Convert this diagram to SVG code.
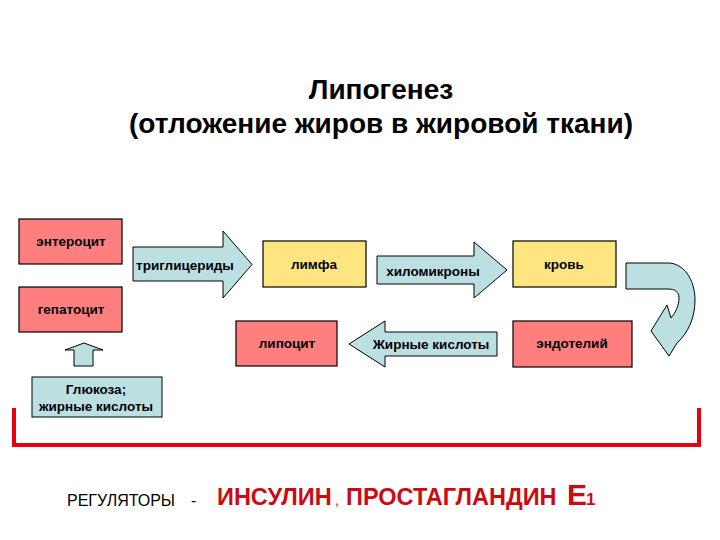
<svg xmlns="http://www.w3.org/2000/svg" width="720" height="540" viewBox="0 0 720 540">
<style>
text{font-family:"Liberation Sans",Arial,sans-serif;}
.t{font-weight:bold;font-size:13.5px;fill:#000;text-anchor:middle;}
.red{fill:#FF7F7F;stroke:#000;stroke-width:1.2;}
.yel{fill:#FFE57F;stroke:#000;stroke-width:1.2;}
.blue{fill:#BCDFE2;stroke:#000;stroke-width:1;}
.title{font-weight:bold;font-size:28px;fill:#000;text-anchor:middle;}
.reg{font-weight:bold;font-size:23.5px;fill:#CC0A14;}
</style>
<rect width="720" height="540" fill="#fff"/>
<g id="title">
<text class="title" x="381" y="99">Липогенез</text>
<text class="title" x="381" y="133">(отложение жиров в жировой ткани)</text>
</g>
<g id="enterocyte"><rect class="red" x="19" y="219" width="103" height="45"/><text class="t" x="71" y="246">энтероцит</text></g>
<g id="hepatocyte"><rect class="red" x="19" y="287" width="103" height="45"/><text class="t" x="71" y="314">гепатоцит</text></g>
<g id="lymph"><rect class="yel" x="263" y="241" width="103" height="46"/><text class="t" x="314" y="269">лимфа</text></g>
<g id="blood"><rect class="yel" x="513" y="241" width="103" height="46"/><text class="t" x="564" y="269">кровь</text></g>
<g id="lipocyte"><rect class="red" x="236" y="321" width="101" height="45"/><text class="t" x="287" y="348">липоцит</text></g>
<g id="endothelium"><rect class="red" x="513" y="321" width="119" height="46"/><text class="t" x="572" y="348">эндотелий</text></g>
<g id="glucose"><rect class="blue" x="32" y="377" width="130" height="40"/><text class="t" x="96" y="394">Глюкоза;</text><text class="t" x="96" y="411">жирные кислоты</text></g>
<g id="connectors">
<g id="arrow-tg"><path class="blue" d="M133,247 L223,247 L223,231 L252,264.5 L223,298 L223,281 L133,281 Z"/><text class="t" x="185" y="270">триглицериды</text></g>
<g id="arrow-chylo"><path class="blue" d="M377,256 L474,256 L474,242 L507,270 L474,298 L474,284 L377,284 Z"/><text class="t" x="433" y="276">хиломикроны</text></g>
<g id="arrow-curve"><path class="blue" d="M626,263 L668,263 C684,263 695,280 695,300 C695,318 688,333 677,343 L669,356 L651,331 L667,305 L671,318 C676,312 679,305 679,298 C679,292 675,289 668,289 L626,289 Z"/></g>
<g id="arrow-fa"><path class="blue" d="M497,332 L385,332 L385,321 L349,344 L385,367 L385,356 L497,356 Z"/><text class="t" x="431" y="349">Жирные кислоты</text></g>
<g id="arrow-up"><path class="blue" d="M74,366 L74,350 L65,350 L84,343 L103,350 L93,350 L93,366 Z"/></g>
<path id="bracket" d="M14,408 L14,445 L699,445 L699,408" fill="none" stroke="#E8000E" stroke-width="4"/>
</g>
<g id="regulators">
<text x="67" y="506" font-size="16" fill="#000">РЕГУЛЯТОРЫ</text>
<text x="191" y="506" font-size="16" fill="#000">-</text>
<text class="reg" x="217" y="505">ИНСУЛИН</text>
<text x="335" y="505" font-size="14" fill="#CC0A14">,</text>
<text class="reg" x="346" y="505">ПРОСТАГЛАНДИН</text>
<text x="567" y="505" font-weight="bold" font-size="30" fill="#CC0A14">Е</text>
<text x="586" y="505" font-weight="bold" font-size="17" fill="#CC0A14">1</text>
</g>
</svg>
